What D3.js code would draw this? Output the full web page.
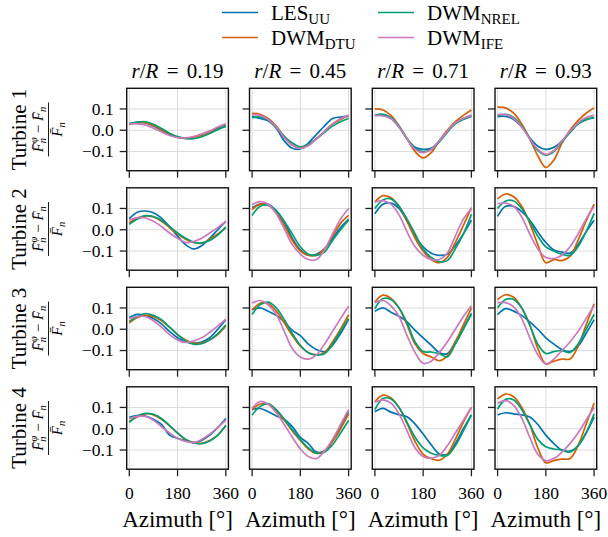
<!DOCTYPE html>
<html><head><meta charset="utf-8">
<script src="https://cdn.jsdelivr.net/npm/d3@7"></script>
<style>
body{margin:0;background:#fff}
svg{display:block}
text{font-family:"Liberation Serif","DejaVu Serif",serif;fill:#000}
</style>
</head><body>
<svg id="chart" width="608" height="537"></svg>
<script>
// ---------- data ----------
const azimuth = [0,30,60,90,120,150,180,210,240,270,300,330,360];
const radii = ["0.19","0.45","0.71","0.93"];
const turbines = ["Turbine 1","Turbine 2","Turbine 3","Turbine 4"];
const seriesMain = ["LES","DWM","DWM","DWM"];
const seriesSub = ["UU","DTU","NREL","IFE"];
const seriesColors = ["#0173b2","#d55e00","#029e73","#cc78bc"];
const xTicks = [0,180,360];
const yTicks = [-0.1,0.0,0.1];
const yTickLabels = ["\u22120.1","0.0","0.1"];

// rows = turbines 1..4, cols = r/R 0.19, 0.45, 0.71, 0.93
const LES = [
 [[0.03,0.037,0.035,0.02,0.0,-0.02,-0.033,-0.038,-0.033,-0.02,-0.005,0.01,0.025],
  [0.066,0.055,0.045,0.01,-0.05,-0.085,-0.088,-0.06,-0.02,0.02,0.055,0.062,0.065],
  [0.07,0.07,0.055,0.015,-0.04,-0.08,-0.09,-0.085,-0.05,-0.005,0.035,0.055,0.07],
  [0.064,0.065,0.05,0.015,-0.035,-0.075,-0.09,-0.08,-0.05,-0.01,0.03,0.05,0.06]],
 [[0.052,0.082,0.088,0.08,0.055,0.015,-0.03,-0.07,-0.09,-0.075,-0.04,0.0,0.04],
  [0.105,0.12,0.12,0.09,0.035,-0.04,-0.095,-0.12,-0.115,-0.09,-0.04,0.01,0.05],
  [0.075,0.12,0.125,0.1,0.04,-0.03,-0.08,-0.11,-0.12,-0.115,-0.075,-0.02,0.045],
  [0.063,0.11,0.11,0.085,0.045,-0.01,-0.06,-0.095,-0.105,-0.11,-0.07,-0.01,0.045]],
 [[0.055,0.07,0.065,0.05,0.025,-0.01,-0.04,-0.06,-0.065,-0.06,-0.04,0.0,0.045],
  [0.092,0.1,0.085,0.065,0.035,-0.005,-0.03,-0.07,-0.095,-0.106,-0.075,-0.02,0.047],
  [0.084,0.1,0.08,0.061,0.035,-0.005,-0.04,-0.075,-0.11,-0.115,-0.06,0.005,0.075],
  [0.069,0.097,0.085,0.065,0.035,0.0,-0.04,-0.07,-0.095,-0.105,-0.08,-0.02,0.045]],
 [[0.054,0.062,0.06,0.045,0.02,-0.03,-0.045,-0.055,-0.065,-0.055,-0.03,0.005,0.048],
  [0.09,0.095,0.08,0.06,0.045,0.01,-0.04,-0.07,-0.11,-0.105,-0.055,0.01,0.08],
  [0.08,0.096,0.078,0.066,0.056,0.022,-0.025,-0.075,-0.118,-0.12,-0.07,0.0,0.065],
  [0.065,0.075,0.07,0.065,0.055,0.02,-0.03,-0.07,-0.1,-0.105,-0.08,-0.02,0.055]]
];
const DTU = [
 [[0.028,0.035,0.036,0.022,0.002,-0.018,-0.032,-0.038,-0.035,-0.024,-0.01,0.006,0.02],
  [0.079,0.075,0.055,0.02,-0.03,-0.07,-0.083,-0.07,-0.04,-0.005,0.03,0.05,0.07],
  [0.1,0.095,0.07,0.02,-0.04,-0.1,-0.13,-0.105,-0.05,0.0,0.04,0.07,0.095],
  [0.109,0.105,0.08,0.03,-0.04,-0.12,-0.175,-0.14,-0.06,0.0,0.045,0.08,0.105]],
 [[0.033,0.055,0.065,0.06,0.04,0.01,-0.02,-0.045,-0.06,-0.063,-0.045,-0.02,0.01],
  [0.095,0.12,0.115,0.08,0.02,-0.05,-0.1,-0.12,-0.12,-0.09,-0.03,0.03,0.067],
  [0.13,0.16,0.15,0.11,0.04,-0.04,-0.1,-0.14,-0.155,-0.13,-0.06,0.02,0.104],
  [0.145,0.168,0.155,0.11,0.03,-0.07,-0.155,-0.14,-0.145,-0.125,-0.05,0.04,0.12]],
 [[0.03,0.055,0.065,0.06,0.04,0.01,-0.025,-0.05,-0.065,-0.065,-0.05,-0.025,0.015],
  [0.09,0.122,0.12,0.085,0.03,-0.03,-0.08,-0.11,-0.12,-0.11,-0.06,0.0,0.068],
  [0.128,0.16,0.145,0.1,0.02,-0.07,-0.114,-0.13,-0.148,-0.125,-0.06,0.02,0.1],
  [0.139,0.162,0.15,0.1,0.02,-0.09,-0.163,-0.15,-0.14,-0.14,-0.08,0.02,0.12]],
 [[0.034,0.055,0.07,0.065,0.045,0.015,-0.02,-0.05,-0.065,-0.068,-0.055,-0.03,0.015],
  [0.09,0.116,0.115,0.085,0.04,-0.01,-0.055,-0.095,-0.115,-0.105,-0.06,0.0,0.07],
  [0.127,0.158,0.145,0.1,0.025,-0.06,-0.12,-0.14,-0.148,-0.12,-0.05,0.03,0.1],
  [0.14,0.163,0.15,0.1,0.02,-0.09,-0.16,-0.15,-0.143,-0.14,-0.08,0.02,0.12]]
];
const NREL = [
 [[0.03,0.038,0.04,0.028,0.008,-0.014,-0.03,-0.038,-0.04,-0.03,-0.015,0.003,0.018],
  [0.059,0.062,0.05,0.015,-0.03,-0.06,-0.078,-0.065,-0.04,-0.01,0.02,0.04,0.055],
  [0.07,0.075,0.06,0.02,-0.04,-0.085,-0.1,-0.09,-0.055,-0.01,0.03,0.05,0.065],
  [0.067,0.075,0.06,0.02,-0.04,-0.095,-0.117,-0.1,-0.055,-0.01,0.03,0.05,0.058]],
 [[0.025,0.05,0.066,0.062,0.045,0.015,-0.015,-0.04,-0.058,-0.062,-0.05,-0.025,0.012],
  [0.067,0.11,0.115,0.09,0.04,-0.02,-0.08,-0.115,-0.12,-0.105,-0.05,0.0,0.045],
  [0.1,0.14,0.145,0.11,0.05,-0.02,-0.09,-0.13,-0.15,-0.145,-0.09,-0.02,0.073],
  [0.1,0.135,0.135,0.1,0.04,-0.03,-0.08,-0.1,-0.115,-0.12,-0.08,-0.01,0.077]],
 [[0.037,0.06,0.074,0.065,0.045,0.01,-0.025,-0.055,-0.07,-0.068,-0.05,-0.02,0.02],
  [0.069,0.115,0.127,0.1,0.045,-0.02,-0.075,-0.11,-0.12,-0.115,-0.07,-0.01,0.05],
  [0.097,0.144,0.14,0.1,0.03,-0.06,-0.105,-0.107,-0.115,-0.13,-0.07,0.0,0.07],
  [0.1,0.14,0.14,0.1,0.02,-0.07,-0.114,-0.105,-0.1,-0.11,-0.07,0.0,0.07]],
 [[0.03,0.06,0.072,0.068,0.048,0.015,-0.02,-0.05,-0.067,-0.07,-0.058,-0.03,0.015],
  [0.065,0.105,0.118,0.09,0.045,-0.005,-0.05,-0.09,-0.115,-0.11,-0.075,-0.02,0.04],
  [0.09,0.142,0.14,0.1,0.03,-0.04,-0.09,-0.115,-0.125,-0.125,-0.08,-0.01,0.065],
  [0.093,0.138,0.135,0.09,0.02,-0.05,-0.085,-0.095,-0.1,-0.11,-0.08,-0.02,0.07]]
];
const IFE = [
 [[0.03,0.03,0.025,0.01,-0.008,-0.025,-0.035,-0.036,-0.03,-0.018,-0.003,0.015,0.03],
  [0.073,0.07,0.05,0.015,-0.035,-0.07,-0.085,-0.072,-0.04,-0.005,0.03,0.055,0.07],
  [0.07,0.068,0.055,0.015,-0.04,-0.09,-0.105,-0.09,-0.05,-0.005,0.035,0.055,0.07],
  [0.073,0.073,0.055,0.015,-0.04,-0.09,-0.113,-0.095,-0.05,-0.005,0.035,0.06,0.07]],
 [[0.045,0.057,0.055,0.04,0.015,-0.015,-0.04,-0.06,-0.055,-0.04,-0.015,0.01,0.04],
  [0.118,0.132,0.12,0.075,0.005,-0.07,-0.115,-0.14,-0.14,-0.095,-0.02,0.05,0.1],
  [0.13,0.137,0.12,0.07,-0.01,-0.08,-0.12,-0.14,-0.14,-0.11,-0.03,0.05,0.1],
  [0.123,0.125,0.11,0.06,-0.02,-0.09,-0.13,-0.135,-0.12,-0.08,-0.02,0.05,0.11]],
 [[0.05,0.06,0.06,0.04,0.01,-0.025,-0.05,-0.062,-0.055,-0.04,-0.015,0.015,0.047],
  [0.123,0.135,0.115,0.07,-0.01,-0.09,-0.13,-0.14,-0.12,-0.07,-0.01,0.05,0.108],
  [0.125,0.135,0.11,0.06,-0.03,-0.11,-0.16,-0.15,-0.11,-0.06,0.0,0.06,0.11],
  [0.125,0.125,0.105,0.05,-0.04,-0.12,-0.163,-0.14,-0.1,-0.06,-0.01,0.05,0.11]],
 [[0.047,0.058,0.058,0.04,0.01,-0.02,-0.045,-0.06,-0.065,-0.05,-0.025,0.005,0.04],
  [0.096,0.128,0.115,0.075,0.02,-0.04,-0.095,-0.13,-0.14,-0.105,-0.05,0.02,0.09],
  [0.124,0.136,0.12,0.07,-0.01,-0.09,-0.13,-0.138,-0.125,-0.08,-0.02,0.04,0.1],
  [0.12,0.132,0.11,0.05,-0.04,-0.12,-0.15,-0.14,-0.11,-0.07,-0.02,0.04,0.1]]
];
const seriesData = [LES, DTU, NREL, IFE];

// ---------- layout ----------
const colX0 = [126.7, 249.5, 372.3, 495.0];
const rowY0 = [88.3, 187.8, 287.3, 386.8];
const panelW = 101.7, panelH = 82.4, pad = 2.6;
const tickLen = 7;
const FONT = '"Liberation Serif","DejaVu Serif",serif';

const svg = d3.select("#chart");

const yScale = (r) => d3.scaleLinear().domain([-0.19, 0.197]).range([rowY0[r] + panelH, rowY0[r]]);
const xScale = (c) => d3.scaleLinear().domain([0, 360]).range([colX0[c] + pad, colX0[c] + panelW - pad]);

for (let r = 0; r < 4; r++) {
  for (let c = 0; c < 4; c++) {
    const x = xScale(c), y = yScale(r);
    const g = svg.append("g").attr("font-family", FONT);
    const x0 = colX0[c], y0 = rowY0[r];
    // grid
    g.selectAll(".gx").data(xTicks).join("line")
      .attr("x1", d => x(d)).attr("x2", d => x(d))
      .attr("y1", y0).attr("y2", y0 + panelH)
      .attr("stroke", "#dcdcdc").attr("stroke-width", 1);
    g.selectAll(".gy").data(yTicks).join("line").attr("class","gy")
      .attr("x1", x0).attr("x2", x0 + panelW)
      .attr("y1", d => y(d)).attr("y2", d => y(d))
      .attr("stroke", "#dcdcdc").attr("stroke-width", 1);
    // lines
    const line = d3.line().x((d, i) => x(azimuth[i])).y(d => y(d)).curve(d3.curveCatmullRom.alpha(0.5));
    seriesData.forEach((s, k) => {
      g.append("path").attr("d", line(s[r][c]))
        .attr("fill", "none").attr("stroke", seriesColors[k])
        .attr("stroke-width", 1.7).attr("stroke-linejoin", "round");
    });
    // frame
    g.append("rect").attr("x", x0).attr("y", y0).attr("width", panelW).attr("height", panelH)
      .attr("fill", "none").attr("stroke", "#111").attr("stroke-width", 1.4);
    // ticks
    g.selectAll(".ty").data(yTicks).join("line")
      .attr("x1", x0 - tickLen).attr("x2", x0)
      .attr("y1", d => y(d)).attr("y2", d => y(d))
      .attr("stroke", "#222").attr("stroke-width", 1.3);
    g.selectAll(".tx").data(xTicks).join("line")
      .attr("x1", d => x(d)).attr("x2", d => x(d))
      .attr("y1", y0 + panelH).attr("y2", y0 + panelH + tickLen)
      .attr("stroke", "#222").attr("stroke-width", 1.3);
    if (c === 0) {
      g.selectAll(".ly").data(yTicks).join("text")
        .attr("x", x0 - 13).attr("y", d => y(d)).attr("dy", "0.34em")
        .attr("text-anchor", "end").attr("font-size", 17.5)
        .text((d, i) => yTickLabels[i]);
    }
    if (r === 3) {
      g.selectAll(".lx").data(xTicks).join("text")
        .attr("x", d => x(d)).attr("y", 499)
        .attr("text-anchor", "middle").attr("font-size", 17.5)
        .text(d => d);
      g.append("text").attr("x", x0 + panelW / 2).attr("y", 527)
        .attr("text-anchor", "middle").attr("font-size", 23)
        .text("Azimuth [\u00b0]");
    }
    if (r === 0) {
      const t = g.append("text").attr("x", x0 + panelW / 2).attr("y", 78)
        .attr("text-anchor", "middle").attr("font-size", 21).attr("word-spacing", 3);
      t.append("tspan").attr("font-style", "italic").text("r");
      t.append("tspan").text("/");
      t.append("tspan").attr("font-style", "italic").text("R");
      t.append("tspan").text(" = " + radii[c]);
    }
  }
  // row label
  const cy = rowY0[r] + panelH / 2;
  const lg = svg.append("g").attr("font-family", FONT).attr("transform", `translate(0,${cy}) rotate(-90)`);
  lg.append("text").attr("x", 0).attr("y", 26).attr("text-anchor", "middle")
    .attr("font-size", 21).text(turbines[r]);
  const num = lg.append("text").attr("x", 0).attr("y", 43).attr("text-anchor", "middle").attr("font-size", 15);
  num.append("tspan").attr("font-style", "italic").text("F\u0304");
  num.append("tspan").attr("font-style", "italic").attr("font-size", 10.5).attr("dy", 3).text("n");
  num.append("tspan").attr("font-style", "italic").attr("font-size", 10.5).attr("dx", -5).attr("dy", -9).text("\u03c6");
  num.append("tspan").attr("dy", 6).text(" \u2212 ");
  num.append("tspan").attr("font-style", "italic").text("F\u0304");
  num.append("tspan").attr("font-style", "italic").attr("font-size", 10.5).attr("dy", 3).text("n");
  lg.append("line").attr("x1", -27).attr("x2", 27).attr("y1", 48.5).attr("y2", 48.5)
    .attr("stroke", "#000").attr("stroke-width", 0.9);
  const den = lg.append("text").attr("x", 0).attr("y", 61.5).attr("text-anchor", "middle").attr("font-size", 15);
  den.append("tspan").attr("font-style", "italic").text("F\u0304");
  den.append("tspan").attr("font-style", "italic").attr("font-size", 10.5).attr("dy", 3).text("n");
}

// ---------- legend ----------
const legX = [222, 378], legY = [12.5, 37.5];
for (let k = 0; k < 4; k++) {
  const col = k < 2 ? 0 : 1, row = k % 2;
  const lx = legX[col], ly = legY[row];
  svg.append("line").attr("x1", lx).attr("x2", lx + 36).attr("y1", ly).attr("y2", ly)
    .attr("stroke", seriesColors[k]).attr("stroke-width", 1.7);
  const t = svg.append("text").attr("font-family", FONT).attr("x", lx + 49).attr("y", ly + 7).attr("font-size", 21);
  t.append("tspan").text(seriesMain[k]);
  t.append("tspan").attr("font-size", 15).attr("dy", 4).text(seriesSub[k]);
}
</script>
</body></html>
